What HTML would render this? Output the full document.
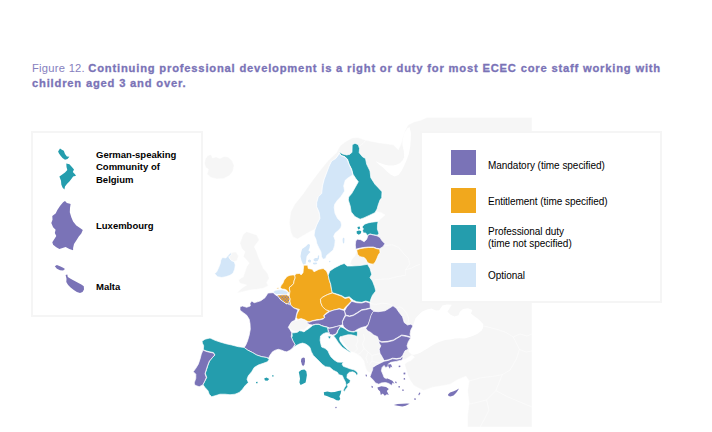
<!DOCTYPE html>
<html><head><meta charset="utf-8"><title>Figure 12</title>
<style>
html,body{margin:0;padding:0;background:#fff}
body{width:712px;height:432px;position:relative;overflow:hidden;font-family:"Liberation Sans",sans-serif}
.t{position:absolute;white-space:nowrap;color:#000;font-size:9.5px;line-height:12.6px}
.title{position:absolute;left:32px;top:60.6px;color:#7a73b7;font-size:11.2px;line-height:15px;white-space:nowrap;font-weight:bold;letter-spacing:.806px;-webkit-text-stroke:.3px #7a73b7}
.title .f{font-weight:normal;letter-spacing:.26px;-webkit-text-stroke:0;color:#8680be}
.box{position:absolute;background:#fff;border:2.5px solid #f5f5f5;box-sizing:border-box}
.sw{position:absolute;left:451px;width:25px;height:24.5px}
.b{font-weight:bold}
.r{font-size:10px;line-height:12px;letter-spacing:-.04px}
</style></head><body>
<div class="title"><span class="f">Figure 12. </span>Continuing professional development is a right or duty for most ECEC core staff working with<br>children aged 3 and over.</div>
<div style="position:absolute;left:427px;top:117.5px;width:105px;height:20px;background:#f5f5f5"></div>
<svg width="712" height="432" viewBox="0 0 712 432" style="position:absolute;left:0;top:0">
<defs><pattern id="h" width="3" height="3" patternUnits="userSpaceOnUse" x="277" y="295"><rect width="3" height="3" fill="#f1a81d"/><rect x="0.2" y="0.2" width="1.3" height="1.3" fill="#7a73b7"/><rect x="1.7" y="1.7" width="1.3" height="1.3" fill="#7a73b7"/></pattern></defs>
<g fill="#f6f6f6" stroke="#fff" stroke-width="0.5" stroke-linejoin="round">
<polygon points="204.5,163 205.5,158.5 208,155.5 211,154.5 212.5,158 216,157 220,158.5 224,156.5 228,157 232,160.5 234,165.5 233,171 229.5,175.5 224,178.5 217,179 211,177.5 207,174 208.5,169.5 205.5,167"/>
<polygon points="246.7,231.7 256.7,235 259.2,240 254.2,246.7 256.7,251.7 258.3,256.7 260.8,262.5 263.3,268.3 267.5,273.3 269.2,278.3 266.7,282.5 268.3,285.8 263.3,288.3 256.7,289.2 250,290 241.7,292 236.7,293 241.7,288.3 246.7,285 240,283.3 238.3,280 243.3,276.7 245,271.7 246.7,266.7 249.2,263.3 246.7,260 243.3,256.7 245,251.7 241.7,248.3 240,243.3 241.7,238.3 243.3,234.2"/>
<polygon points="231.3,252.5 236,252 238.5,256 237,260.5 234.2,261.7 231.7,260.8 230,259.2 228.7,256.7"/>
<polygon points="309.3,232.1 302.1,236.2 297.5,239 293,237 290.8,232 289.3,223 290.7,212 294.9,204 303,194 311.6,181.7 320,170.6 328,160.8 336.6,152.5 340,146 345,142 352,138 358,137.5 365,140 372,141.5 380,143 388,144 393.3,144.7 398.3,149.7 401,144 403,137 405,131 408,125 414,122 420,120.5 427,117.5 532,117.5 532,427 467.6,427 467.6,415.6 469.1,403.1 467.6,390.5 469.1,381 466,376.3 458.1,379.4 450.2,384.2 442.4,385.7 432.9,387.3 423.5,390.5 414,385.7 410,380 407.7,374.7 406,369 404.6,364 407,362.3 411,360.5 414.5,357 412,355 408.5,357.3 405,359.5 402,360 402.5,355.8 405,350.8 408.3,349.2 407,345.8 408.3,341.7 410.8,337.7 410,334.2 410.8,330 413,325.8 410.8,324.2 407.5,325 404.2,322.5 402.5,316.7 399.2,312.5 396.3,308.3 393,305.8 389.2,308.3 385,310.8 378.3,311.7 373.7,311 370.3,308.3 370,303 372.5,295.2 375.8,291 374.7,286.8 372.5,281 370,277.7 371.7,274.3 370,268.5 367.5,264.3 370,263.7 373.3,264.2 375.3,262 377,258.3 378.3,255 380,252.5 379.7,249 382.5,246.7 384.2,243.7 381.7,240.8 380,237.5 377,235.5 378.7,233.3 377,229.2 377,225 377.8,221.5 381,218.5 385,215 381,212.5 376.5,211.8 377.1,209 378.2,205 380,200 381.7,197.7 382,191.8 378.3,187.7 375,184.3 370.8,177.7 370,171 366.7,164.3 365.5,158.5 362.5,156.8 359.2,152.7 359.5,148.5 358.3,144.7 355,143.3 352.2,144.7 352,152.7 350,155.2 346.7,156 342.5,154.7 339.5,152.3 335.8,158.5 331.7,161 329.2,166 326.7,172.7 324.2,179.3 322.5,186 321.7,193.5 318.3,196.8 316.7,202.7 316.7,206.7 319.2,212.5 320,218.3 316.7,225 315.2,229 313.3,230"/>
<polygon points="356.7,250 357.5,254.2 360,256.7 364.2,257.5 365.8,259.2 367.5,262.5 370,263.7 367.3,264.7 360.7,265.7 354,266 350,264 352,259 355,256"/>
<polygon points="290,323.5 293.3,321 297.5,320.2 301.7,318.5 305.8,319.3 308.3,321.8 309.2,325.2 306.7,327.7 304.2,330.2 300.8,329.7 297.5,331.8 294.2,331.3 290.8,329.7 288.7,327.3"/>
<polygon points="345.8,333 349.2,333.3 353.3,334.2 357,335 356.7,331.7 361.7,328.3 365.8,327.5 367.5,330.8 370.8,332.5 373.7,335 377.5,336.7 378.7,340.3 379.2,343.3 380.8,345.8 379.2,349.2 380,353.3 382.5,357.5 384.2,360.3 380,363.3 376.7,365 373.7,366.7 372.5,370 370,373 367,371 365,366 364,361 361,357 357,354 353,352 350.8,351.7 348.3,349.2 345.8,345.8 343.3,342.5 341.3,339.2 340.3,335.8 342.5,334.2"/>
</g>
<g fill="#fff">
<polygon points="412.8,326.5 415.6,318 421.9,311.7 427,309.5 431.4,308.6 436,310.5 439.2,310.2 442.4,305.6 447,304.6 451.8,304.8 449.5,308.5 447.5,311.5 450.5,314.8 454.5,316.5 458.5,315.2 459.7,312 463,309 468,308.2 472.3,310 471,313.5 474,316 477,318 480.5,321 483.3,324.3 483,328 481.7,330.6 478,333.5 473.9,335.4 469,337.2 464.4,338.5 459.5,338.2 455,338.5 450,339.5 445.5,340.1 440.5,341.5 436.1,343.2 432,345.5 428.2,348 424,350.5 420.3,352.7 417,354 414,354.8 411.5,354.5 408.5,351.5 408.8,349 407.5,345.8 408.8,341.7 411.3,337.7 410.5,334.2 411.3,330"/>
<polygon points="375.5,161.3 380,163 385,164.7 389,165.5 393.3,165.5 397,164.6 400,163 402.5,160.5 404.2,157 403.8,151.3 402.5,145.5 402.5,140 404,134 407,128.5 409.5,127 411,133 410.8,140 410.2,147 408.8,154 406.5,160.5 404,166 401.5,171 398.5,175 394.5,176.5 390.5,174.5 386.7,171.3 383,167.5 379,164.5"/>
</g>
<g fill="none" stroke="#fff" stroke-opacity=".8" stroke-width="0.6" stroke-linejoin="round">
<polyline points="384.5,246 391.8,244.6 398.7,247.4 402.9,252.9 408.4,258.5 409.8,264 405.7,269.6 405.7,275.2 397.3,276.6 389,278.8 380.7,279.3 374.8,279.6"/>
<polyline points="405.7,269.6 411.2,268.2 416.8,265.4 420.8,264"/>
<polyline points="370.3,303.5 376,304.5 382,303.2 388,303.8 393,305.8"/>
<polyline points="396.3,308.3 399.5,306.8 403,308.5 406.5,313 408.8,318.5 407.8,323 410.8,324.2"/>
<polyline points="359.5,146 363,143.5 365.5,140.5"/>
<polyline points="469.1,381 480.2,377.9 492.8,376.3 502.2,374.7 510.1,370 516.4,359 519.5,349.5 514.8,340.1 513.2,336.9 505.4,332.2 495.9,329.1 483.3,325.9"/>
<polyline points="502.2,374.7 495.9,390.5 486.5,399.9 473.9,403.1 469.5,404"/>
<polyline points="513.2,336.9 520,334 527,336 532,334"/>
<polyline points="519.5,349.5 526,352 532,351"/>
<polyline points="495.9,390.5 508,397 520,402 532,407"/>
<polyline points="486.5,399.9 489,410 484,420 480,427"/>
<polyline points="363.5,334 364.5,339 362.5,344 364,348.5 368,352 372,355.5 378,354 380.5,353.5"/>
<polyline points="364,348.5 361,352.5 358,354.5"/>
<polyline points="368,352 366,358 367.5,363"/>
<polyline points="372,355.5 372,361 369.5,364.5"/>
<polyline points="372,361 377,362.5 381,362.5"/>
<polyline points="356.8,336.4 358,341 356,345 357.5,349 354.5,352"/>
</g>
<g stroke="#fff" stroke-opacity=".85" stroke-width="0.8" stroke-linejoin="round">
<polygon fill="#249dad" points="339.3,151.8 342.5,153.9 346.7,155 350,154.2 352,152.2 352.2,144.7 355,143.3 358.3,144.7 359.5,148.5 359.2,152.7 362.5,156.8 365.5,158.5 366.7,164.3 370,171 370.8,177.7 375,184.3 378.3,187.7 382,191.8 381.7,197.7 380,200 378.2,205 377.1,209 374.9,212.7 369.7,215.2 363.8,217.9 360.1,219.2 354.9,216.6 351.2,211.9 350.2,206 348.3,200 348.7,197 351.7,193.5 355,187.7 358.3,181.8 355.8,178.5 353,174.3 351.7,169.3 349.2,164.3 347.5,159.3 345,156.8 340.8,155.2"/>
<polygon fill="#d3e6f8" points="339.5,153.5 340.8,155.6 345,157.2 347.3,159.6 349,164.5 351.4,169.5 352.7,174.4 351.7,175.7 348.3,177.7 345.3,180.2 343.7,186 344.7,191 340.8,196.8 337.5,200.2 334.7,204.3 334.2,207.5 335,213.3 337.5,218.3 340.8,221.7 341.7,225 340.9,227.5 338.8,230.1 335.2,233.1 333.7,236.2 335.2,240.3 334.7,245.4 333.2,250 329.6,253 326.6,255.6 325.6,258.6 323,259.3 321.5,256.6 321,252 318.9,247.9 316.9,243.8 315.9,239.3 314.1,235.2 314.9,230.1 316.7,225 320,218.3 319.2,212.5 316.7,206.7 316.7,202.7 318.3,196.8 321.7,193.5 322.5,186 324.2,179.3 326.7,172.7 329.2,166 331.7,161 335.8,158.5"/>
<polygon fill="#d3e6f8" points="343,237.5 344.5,238.5 344.2,243 343,243.5 342.6,240" stroke="none"/>
<polygon fill="#249dad" points="362,227 364.5,224.2 368,222.9 371.7,222.2 378.1,221.4 377.5,225 377.4,229.2 378.9,233.3 377.6,235.2 373.3,234.8 370,233.9 367.5,235.4 365.6,232.9 363.3,233 362.6,230.6 363.4,228.8"/>
<polygon fill="#249dad" points="356.6,231.2 359,230.4 361.2,231 361,233.2 358.8,234.8 356.8,233.6" stroke="none"/>
<polygon fill="#249dad" points="357.4,227 359.6,226.6 360.2,228.6 358.2,229.4" stroke="none"/>
<polygon fill="#7a73b7" points="355.8,240.8 357.5,239.2 360.8,239.7 364.2,241.7 366.7,239.2 368,235.3 370,234.2 373.3,235 377,235.8 380,237.5 381.9,240.6 384.9,243.7 383,246.7 379.7,248.7 376.7,248.3 373.3,247 368.3,247 363.3,247.5 359.2,248.3 355.8,249.2 355.3,245"/>
<polygon fill="#f1a81d" points="356.7,250 360,248.7 364.2,248 368.3,247.5 373.3,247.5 376.7,248.7 379.7,249.3 380,252.5 378.3,255 377,258.3 375.3,262 373.3,264.2 370,263.7 367.5,262.5 365.8,259.2 364.2,257.5 360,256.7 357.5,254.2"/>
<polygon fill="#d3e6f8" points="301.1,252.5 302.1,248.9 305.7,246.4 308.2,244.1 310,244.7 309.5,247.9 308.4,250.5 310.5,252 308.4,254 306.6,256.6 306.1,260.7 305.6,264 303.1,264.5 301.5,260.7 300.5,256.6" stroke="none"/>
<polygon fill="#d3e6f8" points="308,260.3 309.6,259.6 311,260.3 310.8,262.2 309.2,262.6 308,261.8" stroke="none"/>
<polygon fill="#d3e6f8" points="313.6,259 315.5,258 317.6,258 318,255.4 319.2,255.6 319,258.6 317.6,261 315.5,261.6 313.8,260.8" stroke="none"/>
<polygon fill="#d3e6f8" points="313,262.8 316.5,262.6 317.3,264 314.5,264.6 313,264" stroke="none"/>
<polygon fill="#d3e6f8" points="329,261 330.3,260.8 330.4,262 329.1,262.2" stroke="none"/>
<polygon fill="#d3e6f8" points="229.2,254.2 230.8,252.5 231.3,255 228.7,256.7 230,259.2 231.7,260.8 234.2,261.7 235.3,265 234.7,269.2 233,273.3 230,275.3 225.8,276.7 221.7,277.5 217.5,276.7 214.7,273.7 216.7,271.7 218.7,267.5 220.3,263.3 220.8,260 222.5,257.5 225.8,258"/>
<polygon fill="#f1a81d" points="287,276.4 290,275.3 293,274.9 294.8,275.3 295.2,277.9 294.1,280.8 293.7,283.4 291.9,285.6 289.6,287.1 289.3,289 290,291.2 289.6,293.6 288.9,293.4 288.1,291.9 287,290.4 284.8,289.3 281.9,289 280.4,287.5 281.1,285.6 283,283 284.1,280.1 285.9,277.9"/>
<polygon fill="#f1a81d" points="276.8,288 278.5,287.7 278.8,288.8 277,289"/>
<polygon fill="#f1a81d" points="303.7,265.2 307.7,265.2 308.2,268.5 312.3,269.3 314,271.8 319,269.3 323.2,268.5 326.5,271 328.2,275.2 329.3,280.2 330.7,284.3 331.5,289.3 332.3,292.7 327.3,294.7 322.3,297.3 320.5,299.3 320.8,302.7 321.9,305.3 324,307.8 326.5,309.8 329.4,311.1 327.3,312.3 325.3,314 323.6,315.7 324.4,317.3 323.2,318.6 319.8,319.4 316.5,319.8 312.3,320.7 309,321.9 306.9,321.1 304.8,319.8 301.1,318.6 297.8,319.4 296.1,317.3 297.3,313.2 299.4,309.4 293.3,307.7 290.8,305.2 290,302.7 290,299 289.1,296 289.6,293.6 290,291.2 289.3,289 289.6,287.1 291.9,285.6 293.7,283.4 294.1,280.8 295.2,277.9 294.8,275.3 295.9,273.8 299.6,273.4 301.1,274.9 303,272.7 303.3,269.7"/>
<polygon fill="#249dad" points="329.8,271 334.8,267.7 340.7,264.7 344.2,263.5 347.3,266 351.7,266 360,265.5 367.5,264.3 370,268.5 371.7,274.3 370,277.7 372.5,281 374.7,286.8 375.8,291 372.5,295.2 370.8,299.3 370,302.3 365.8,301 361.7,302.3 356.7,301.8 353.3,300.2 349.2,296.8 345,297.7 341.7,295.7 336.7,294 332.3,292.7 331.5,289.3 330.7,284.3 329.3,280.2 328.2,275.2"/>
<polygon fill="#f1a81d" points="320.5,299.3 322.3,297.3 327.3,294.7 332.3,293 336.7,294.5 341.7,296.3 345,298.5 349.2,297.5 351.5,301 348.3,304.3 345.8,306.8 343.3,309.6 339.2,308.6 335,309.8 330,311.2 325.8,309.7 322.5,306.8 320.8,302.7"/>
<polygon fill="#7a73b7" points="351.7,301.3 356.7,302.7 361.7,303 365.8,301.8 370,303 370.3,308 365.8,309 361.7,309.7 357.5,312.4 353.3,315 349.5,316 345.8,315 344.5,311 346.7,307 349.2,304.3"/>
<polygon fill="#7a73b7" points="306.9,321.5 309,322.3 312.3,321.1 316.5,320.2 319.8,319.8 323.2,319 324.8,317.5 324.2,315.8 325.7,314.4 327.8,312.8 329.8,311.5 334,310 339.2,309 343.3,310.2 344.5,311 345.3,315 343.7,318.3 342.3,321.7 342.6,324.5 340.5,325.6 336.7,326.6 333.2,327.3 329.8,328 327.3,327.1 324,326.3 321.5,325.5 319,324.2 315.7,324.2 312.3,325 309.8,324.6 307.8,323.6"/>
<polygon fill="#7a73b7" points="345.8,315.6 349.5,316.5 353.3,315.5 357.5,313 361.7,310.2 365.8,309.6 370.3,308.4 373.7,311 371.7,315 370,320 368.3,324.7 365.5,326.6 363.4,327 360.5,327.9 357.2,329.5 354.7,331.2 352.2,331.6 348.8,330.8 346.3,329.1 343.8,327 342.7,324.5 342.5,321.7 344.2,318.3"/>
<polygon fill="#7a73b7" points="327.3,328.3 329.8,328.3 333.2,327.5 336.7,326.4 340.5,325.4 339.3,328.1 337.6,330.6 336.7,333.1 335.1,334.3 332.6,335 330.5,334.5 328.8,333.1 328.4,331"/>
<polygon fill="#249dad" points="340.5,326.8 343,327.7 345.5,329.3 348,331 351.3,331.8 353.8,332.1 355.9,331.2 357.3,331.6 357.5,334 357,336.5 354.7,335.6 351.3,334.8 348,334.8 344.7,335.6 341.8,336.4 340.1,336.8 339.5,338.5 340.1,341 341.8,343.5 343.8,346 346.3,348.5 348.8,350.6 350.8,352.2 349,352 347.6,350.8 344.7,348.9 342.2,347.3 340.5,345.2 338.4,342.7 336.8,340.2 335.1,337.7 333.4,335.8 335.5,334.8 337.2,333.1 338,330.6 339.5,328.3"/>
<polygon fill="#249dad" points="327.8,336.2 330.5,336 330.9,336.8 329.7,338.9 328.4,337.7"/>
<polygon fill="#7a73b7" points="373.7,311.3 378.3,311.7 385,310.8 389.2,308.3 393,305.8 396.3,308.3 399.2,312.5 402.5,316.7 404.2,322.5 407.5,325 410.8,324.2 413,325.8 410.8,330 410,334.2 410.8,337 406.7,335.8 401.7,335 397.5,337.5 393.3,340 387.5,341.3 381.7,341.7 378.7,340.3 377.5,336.7 373.7,335 370.8,332.5 367.5,330.8 365.8,328.3 368,325 369.7,320 370.8,315.8 372.5,312.5"/>
<polygon fill="#7a73b7" points="378.7,341 381.7,342.3 387.5,342 393.3,340.6 397.5,338.1 401.7,335.6 406.7,336.5 410.8,337.7 408.3,341.7 407,345.8 408.3,349.2 405,350.8 402.5,355.8 400.8,357.8 396.7,358.6 392.5,358.2 388.3,359.8 384.2,360.6 382.5,357.5 380,353.3 379.2,349.2 380.8,345.8 379.2,343.3"/>
<polygon fill="#7a73b7" points="372.7,367.4 376.7,364.9 380,363.3 384.1,361.3 388.3,360.4 392.5,358.8 396.7,359.2 400.8,358.4 402.3,356 402.9,358 402,360 400.2,360.4 396.2,361.4 390.8,362.3 388.2,364.1 387.9,366.8 385.5,367.4 384.1,365.4 382.1,367.4 381.4,370.8 382.8,374.1 384.1,377.5 388.2,379.5 392.2,380.8 392.9,382.9 391.5,385.5 388.8,383.5 385.5,382.5 381.4,382.9 378.8,384.2 375.4,382.9 373.4,380.2 370,376.8 371.4,372.8 372.7,369.4"/>
<polygon fill="#7a73b7" points="388,364.5 391,364.2 392.3,367.4 390.6,366.6 390,368.8 388.5,366.8" stroke="none"/>
<polygon fill="#7a73b7" points="377.4,387.6 381.4,386.2 386.1,386.9 388.8,388.9 386.8,390.9 388.8,394.9 386.8,394.3 384.8,395.8 382.8,393.6 380.8,395.1 380.1,391.6 378.1,389.6" stroke="none"/>
<polygon fill="#7a73b7" points="386.8,378.2 389.8,379.6 392.6,381 394.5,383.8 392,382.6 389,381.2 386.6,379.8" stroke="none"/>
<polygon fill="#7a73b7" points="393.8,405 397.6,404.1 402.9,403.7 407,403.5 409.6,403.8 405.6,405.7 402.3,406.4 397.6,405.8" stroke="none"/>
<polygon fill="#7a73b7" points="418.3,394.2 419.8,392.3 420.4,393.3 419,395.4" stroke="none"/>
<polygon fill="#7a73b7" points="403.5,372.7 405.2,372.5 405.4,374.2 403.7,374.5" stroke="none"/>
<polygon fill="#7a73b7" points="403.6,378.2 405,378 405.2,379.6 403.8,379.8" stroke="none"/>
<polygon fill="#7a73b7" points="402.2,389.6 403.6,389.4 403.8,390.8 402.4,391" stroke="none"/>
<polygon fill="#7a73b7" points="414.3,398.3 415.6,398.2 415.6,400 414.5,400" stroke="none"/>
<polygon fill="#7a73b7" points="371.4,385.8 372.8,386.2 372.8,388 371.6,387.6" stroke="none"/>
<polygon fill="#7a73b7" points="365.6,374.5 366.8,374.8 367,376.6 365.8,376.2" stroke="none"/>
<polygon fill="#7a73b7" points="398.6,365.8 400.2,365.6 400.4,367 398.8,367.2" stroke="none"/>
<polygon fill="#7a73b7" points="395,381.5 396.4,381.7 396.8,383.3 395.4,383" stroke="none"/>
<polygon fill="#7a73b7" points="398.3,386.2 399.8,386 400,387.4 398.5,387.6" stroke="none"/>
<polygon fill="#7a73b7" points="448,394.5 450,392.5 453,391.5 456,390.2 459,388.6 457.5,391 456,393 453.5,395.5 450.5,396.5 448.5,396" stroke="none"/>
<polygon fill="#7a73b7" points="335.2,407 336.3,406.7 336.8,407.9 335.6,408.2" stroke="none"/>
<polygon fill="#249dad" points="291.9,332.8 294,332.8 297.3,332.3 299.4,330.7 301.9,331.1 304,331.9 306.1,330.3 308.2,329 310.8,326.9 312.8,325.3 315.7,324.4 319,324.4 321.5,325.7 324,326.5 327.3,327.3 327.8,329 328.2,331.5 329.4,332.8 326.8,332.7 325.9,332.7 323,333.9 320.5,336 320.1,340.2 320.9,344.3 321.7,347.1 325,348.3 327.9,350.8 329.2,353.8 330.8,356.7 334.2,360 337.5,362.1 340.8,362.3 343.3,362.1 342.1,364.2 343.3,366.3 346.7,367.5 350,368.8 354,369.8 356.9,371.8 358,373.9 356.5,375.2 355.3,373.1 352.8,371.8 349.4,372.3 347.3,374.3 346.9,377.7 348.6,378.9 350.3,380.6 349.8,382.7 347.3,384.3 347.8,386.8 346.1,388.9 344.4,391.4 343.2,390.6 344.4,387.7 346.1,385.2 345.3,381.8 343.6,378.5 342.3,375.6 339,374.8 337.3,372.3 333.2,370.2 329.8,367.3 325.4,366.7 322.5,364.6 320,362.1 316.7,358.8 313.3,355.4 311.3,351.7 310,347.5 308,345.6 305.5,343.9 302.5,343.1 299.2,344 295.8,345.8 293.7,347.3 295,344.5 293,341.4 291.5,337.7 292.3,336"/>
<polygon fill="#249dad" points="323.8,392.2 327.3,391.5 331,392.3 334.8,392 338.2,391 341.3,390.6 340.7,393.5 339.4,396.4 340.3,398.9 339,400.6 336.5,400.2 333.6,398.5 330.3,397.5 326.9,396 324.2,395.2" stroke="none"/>
<polygon fill="#249dad" points="298.8,371.9 301.3,370 304.4,369.4 306.3,371.3 306.9,375 306.3,378.8 305.6,382.5 303.1,383.8 300.6,385 299.4,382.5 300,378.8 299.4,375" stroke="none"/>
<polygon fill="#7a73b7" points="268,293 273.3,292.7 275.8,295.2 278.3,296.3 280,299.3 283,301.3 286.7,304 287.5,303.5 288.3,301 290,302.7 290.8,305.2 293.3,307.7 298,309.8 296.7,313.5 295.8,317.7 295,320.2 291.7,321.8 290,324.3 288.3,327.3 290,329.7 291.7,332.7 291.3,336.8 293,341 295,344.3 293,347.7 290,350.2 286.7,351.8 284.2,351.3 281.7,350.2 278.3,349.3 275.3,350.2 272.5,351.8 270,355.2 268.5,358.2 266.7,357.5 261.7,356.7 256.7,355 252.5,352.5 247.5,350 244.2,347.5 245.8,345 247.5,341 249.2,335.2 250.3,329.3 250,323.5 249.2,319.3 246.7,315.2 243.3,312.7 240,310.2 240,306.8 242.5,306 246.7,307.3 250.3,306 250,303.5 251.7,301 254.2,302.7 257.5,301.8 260.8,300.7 265,297.7"/>
<polygon fill="#7a73b7" points="301.3,358.8 303.1,357.5 304.8,358.1 305,361.3 304.4,364.4 303.1,366.3 301.9,364.4 301,361.3" stroke="none"/>
<polygon fill="#249dad" points="202,341.3 205,339.2 210,338 215,340.3 220,342 225.8,343.7 231.7,345 238.3,346.7 244.2,347.5 247.5,350 252.5,352.5 256.7,355 261.7,356.7 266.7,357.5 269.2,359.2 267.5,361.7 263.3,363.3 258.3,365 254.2,367.5 251.7,371.7 248.3,375.8 247,379.2 248.3,382.5 245,385.8 242.5,389.2 239.2,392.5 235,394.2 230,394.7 225,394.2 220,394.2 215,395.8 211.7,396.7 209.2,394.2 208,390.8 205,387.5 203,384.7 205,380.8 206.7,377.5 205.3,373.3 206.7,369.2 208,365 209.7,360.8 212.5,357.5 215,355 213.3,352.5 209.2,351.7 205.8,350.8 203.3,349.7 203.7,345.8 202.5,343.3"/>
<polygon fill="#249dad" points="264.2,378.5 266.5,377.5 269.2,379 267.5,380.8 265,380.5" stroke="none"/>
<polygon fill="#249dad" points="272,375.2 273.8,375.5 273.5,376.6 272.2,376.4" stroke="none"/>
<polygon fill="#249dad" points="256,382 257.5,381.8 257.6,383.2 256.2,383.3" stroke="none"/>
<polygon fill="#7a73b7" points="203,350 205.8,351.3 209.2,352.2 213.3,353 214.7,355 212.2,357.8 209.3,361.2 207.7,365.3 206.3,369.5 205,373.7 206.3,377.5 204.7,381.2 202.7,385 199.2,386.7 195,385.3 194.2,383 195.8,378.3 195.8,374.2 193.3,371.7 195.8,368.3 198.3,364.2 200,359.2 201.3,354.2"/>
<polygon fill="#7a73b7" points="288.3,300.8 290,302.5 289.6,304.8 287.6,303.6"/>
<polygon fill="#d3e6f8" points="273.1,291.8 275.5,290.3 279,289.8 281.9,289.6 285,290.4 287.6,291.8 288.4,293.2 286.5,294.4 283,294.5 280,294.6 276.5,294.5 274.3,293.5"/>
<polygon fill="url(#h)" points="277,295.1 280,294.9 283,294.8 286.5,294.8 289.1,296 290,299 288.5,303.9 285.5,303.3 283.3,301.6 281.3,300.3 278.8,297.3"/>
</g>
<div class="box" style="left:31px;top:131px;width:172px;height:186px"></div>
<div class="box" style="left:420px;top:131px;width:242px;height:172px"></div>
<svg width="712" height="432" viewBox="0 0 712 432" style="position:absolute;left:0;top:0">
<g>
<polygon fill="#249dad" points="58.1,151.4 60,148.5 61.9,149.8 63.8,150.8 65,153.9 66.9,156.4 69.4,156.8 67.5,158.9 65,159.8 62.5,158 60.6,155.8 59,153.5"/>
<polygon fill="#249dad" points="66.3,163.5 69.4,164.3 71.9,167 74,169.5 72.8,172 75,174.3 76,175.8 73.1,176.4 71.9,178.3 69.4,181.4 66.9,183.9 65,186.4 64.4,189.5 62.5,187.6 61.3,184.5 61,180.8 59.4,176.4 61.9,174.8 65,172.6 67.3,170.1 66.5,167"/>
<polygon fill="#7a73b7" points="63.1,202.3 65,201 66.9,202.9 69,203.5 70.6,204.1 70,207.9 69.8,212.3 71.3,217.3 73.1,221.6 76.3,225.4 80,227.9 82.8,230 81.3,233.5 78.8,236.6 76.3,240.4 74,244.1 73.1,247.9 73.1,250.3 69.4,249.1 65.6,247 62.5,247.9 59.4,249.1 56.3,247.3 53.1,244.8 52.3,242.3 54.4,239.1 56.3,236 54.8,232.9 55.6,229.8 53.1,227.3 51.3,222.9 52.5,219.8 52.3,216 55.6,213.5 57.5,209.8 60,206"/>
<polygon fill="#7a73b7" points="54.8,266.3 56.9,265 60,266.3 63.1,267.8 65,269 63.1,270.6 60,270.3 56.9,268.8"/>
<polygon fill="#7a73b7" points="65.6,275 67.3,274.4 67.8,276.9 70.6,278.8 73.8,280.6 77.5,282.5 81.3,284.4 83.8,286.3 84,289.4 82.5,291.9 80,293.1 76.9,291.9 73.8,290 70.6,287.5 68.1,285 66.3,281.9 66.5,278.8"/>
</g></svg>
<div class="t b" style="left:96px;top:148.6px">German-speaking<br>Community of<br>Belgium</div>
<div class="t b" style="left:96px;top:220px">Luxembourg</div>
<div class="t b" style="left:96px;top:281.4px">Malta</div>
<div class="sw" style="top:150.2px;background:#7a73b7"></div>
<div class="sw" style="top:188.2px;background:#f1a81d"></div>
<div class="sw" style="top:225.2px;background:#249dad"></div>
<div class="sw" style="top:262.5px;background:#d3e6f8"></div>
<div class="t r" style="left:488px;top:159.8px">Mandatory (time specified)</div>
<div class="t r" style="left:488px;top:195.5px">Entitlement (time specified)</div>
<div class="t r" style="left:488px;top:225.9px">Professional duty<br>(time not specified)</div>
<div class="t r" style="left:488px;top:269.8px">Optional</div>
</body></html>
